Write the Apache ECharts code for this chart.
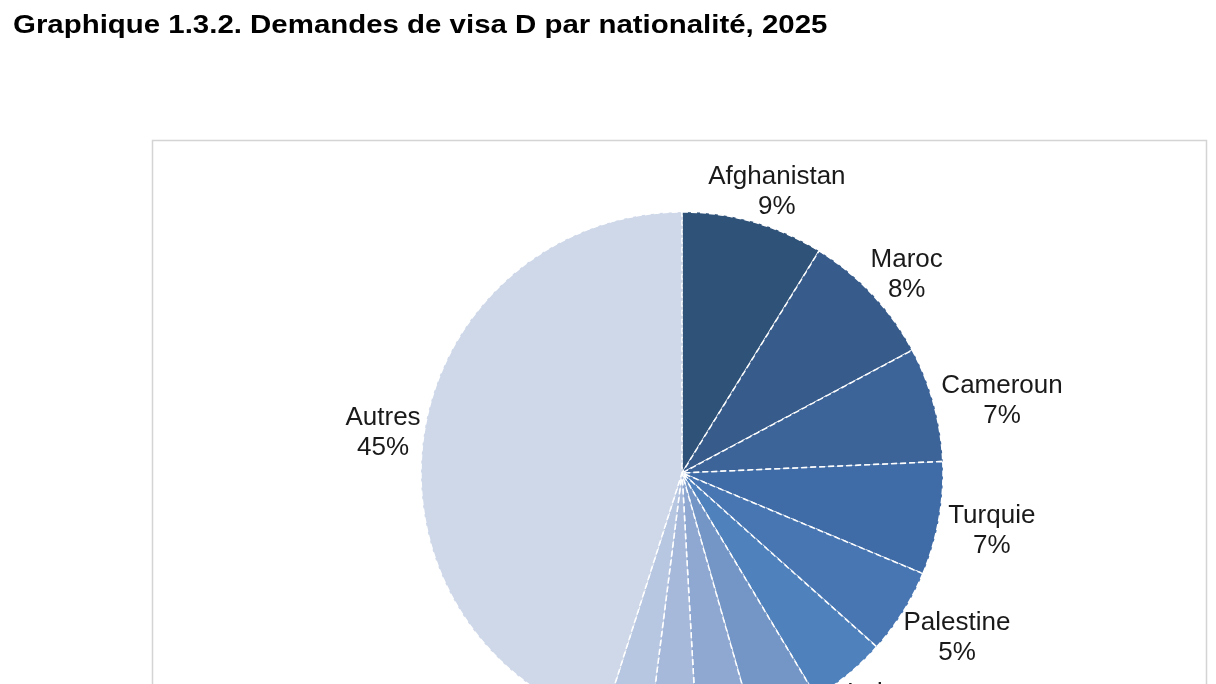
<!DOCTYPE html>
<html>
<head>
<meta charset="utf-8">
<script src="https://cdn.jsdelivr.net/npm/echarts@6/dist/echarts.min.js"></script>
<style>
html,body{margin:0;padding:0;background:#fff;}
#chart{width:1216px;height:684px;}
</style>
</head>
<body>
<div id="chart"></div>
<script>
var titleText = 'Graphique 1.3.2. Demandes de visa D par nationalité, 2025';
var countries = ['Afghanistan','Maroc','Cameroun','Turquie','Palestine','Inde','Chine','Algérie','Tunisie','États-Unis','Autres'];
var shares = [8.8, 8.4, 7.1, 7.0, 5.3, 4.8, 4.2, 3.5, 2.9, 2.9, 45.1];
var colors = ['#2f5279','#375c8c','#3c6499','#3f6ba6','#4776b3','#4f81bd','#7396c7','#8fa8d1','#a7b9da','#b8c7e1','#ced8e9'];

var CX = 682, CY = 473, RADIUS = 261, GAP = 7, DX = 3, DY = 6;
var total = shares.reduce(function(a,b){return a+b;},0);
var cum = [];
(function(){var s=0;for(var i=0;i<shares.length;i++){cum.push(s);s+=shares[i];}})();

var chart = echarts.init(document.getElementById('chart'), null, {renderer:'canvas'});
chart.setOption({
  animation:false,
  backgroundColor:'#fff',
  graphic:[{
    type:'rect', silent:true, z:-1,
    shape:{x:152.5, y:140.5, width:1054, height:600},
    style:{fill:'#fff', stroke:'#d4d4d4', lineWidth:1.5}
  },{
    type:'text', silent:true, x:13, y:14, scaleX:1.177, scaleY:1,
    style:{text:titleText, x:0, y:0, fill:'#000',
      font:'bold 25px "Liberation Sans"', verticalAlign:'top', align:'left'}
  }],
  series:[{
    type:'pie',
    center:[CX, CY],
    radius:[0, RADIUS],
    startAngle:90,
    clockwise:true,
    avoidLabelOverlap:false,
    data:countries.map(function(n,i){return {name:n, value:shares[i], itemStyle:{color:colors[i]}};}),
    itemStyle:{borderColor:'#ffffff', borderWidth:1.5, borderType:'dashed'},
    label:{
      show:true, position:'outside',
      formatter:function(p){return p.name + '\n' + Math.round(p.value/total*100) + '%';},
      fontFamily:'Liberation Sans', fontSize:26, lineHeight:30, color:'#1a1a1a'
    },
    labelLine:{show:false, length:0, length2:0},
    labelLayout:function(p){
      var i = p.dataIndex;
      var a = (cum[i] + shares[i]/2) / total * Math.PI * 2;
      var s = Math.sin(a), c = Math.cos(a);
      var w = p.labelRect.width, h = p.labelRect.height;
      var R = RADIUS + GAP;
      return {x: CX + R*s + s*w/2 + DX, y: CY - R*c - c*h/2 + DY, align:'center', verticalAlign:'middle'};
    },
    emphasis:{disabled:true}
  }]
});
</script>
</body>
</html>
